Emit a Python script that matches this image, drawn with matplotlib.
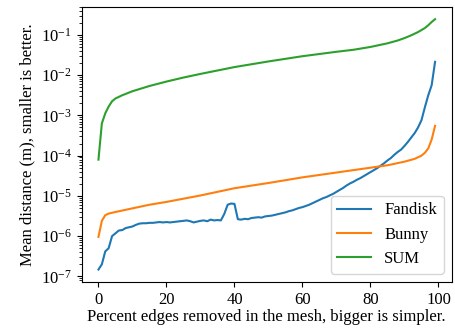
import matplotlib
matplotlib.use("Agg")
import matplotlib.pyplot as plt
import numpy as np

plt.rcParams['font.family'] = 'serif'
plt.rcParams['font.serif'] = ['Liberation Serif', 'DejaVu Serif']
plt.rcParams['mathtext.fontset'] = 'stix'
plt.rcParams['font.size'] = 12

# percent of edges removed
x = np.arange(0, 100)

# log10 of mean distance
fandisk_log10 = [
    -6.83, -6.70, -6.38, -6.30, -6.00, -5.93, -5.86, -5.85, -5.80, -5.78,
    -5.76, -5.72, -5.69, -5.68, -5.68, -5.67, -5.67, -5.66, -5.65, -5.66,
    -5.65, -5.66, -5.65, -5.64, -5.63, -5.62, -5.61, -5.63, -5.66, -5.64,
    -5.62, -5.61, -5.63, -5.59, -5.61, -5.60, -5.61, -5.45, -5.22, -5.19,
    -5.20, -5.58, -5.59, -5.57, -5.58, -5.55, -5.54, -5.53, -5.54, -5.51,
    -5.50, -5.49, -5.47, -5.45, -5.43, -5.41, -5.38, -5.36, -5.33, -5.30,
    -5.28, -5.25, -5.22, -5.18, -5.14, -5.10, -5.06, -5.03, -4.99, -4.95,
    -4.90, -4.85, -4.80, -4.74, -4.69, -4.65, -4.60, -4.56, -4.51, -4.46,
    -4.41, -4.36, -4.31, -4.25, -4.19, -4.12, -4.06, -3.98, -3.91, -3.85,
    -3.76, -3.66, -3.55, -3.44, -3.30, -3.12, -2.80, -2.50, -2.25, -1.67,
]

bunny_x = [0, 1, 2, 3, 5, 10, 15, 20, 30, 40, 50, 60, 70, 80, 85, 90, 93, 95, 96, 97, 98, 99]
bunny_log10 = [-6.02, -5.62, -5.48, -5.44, -5.40, -5.31, -5.22, -5.15, -4.99, -4.81,
               -4.68, -4.54, -4.42, -4.30, -4.24, -4.15, -4.08, -4.00, -3.93, -3.82,
               -3.60, -3.26]

sum_x = [0, 1, 2, 3, 4, 5, 7, 10, 15, 20, 25, 30, 40, 50, 60, 70, 75, 80, 85, 88,
         90, 92, 94, 96, 97, 98, 99]
sum_log10 = [-4.10, -3.20, -2.95, -2.78, -2.65, -2.58, -2.50, -2.40, -2.27, -2.16,
             -2.06, -1.97, -1.80, -1.66, -1.53, -1.42, -1.37, -1.30, -1.21, -1.14,
             -1.08, -1.01, -0.93, -0.83, -0.76, -0.68, -0.61]

y_ticks = [1e-7, 1e-6, 1e-5, 1e-4, 1e-3, 1e-2, 1e-1]

fig = plt.figure(figsize=(4.56, 3.33), dpi=100)
ax = fig.add_axes([0.179, 0.153, 0.812, 0.827])

ax.plot(x, 10 ** np.array(fandisk_log10), label='Fandisk')
ax.plot(bunny_x, 10 ** np.array(bunny_log10), label='Bunny')
ax.plot(sum_x, 10 ** np.array(sum_log10), label='SUM')

ax.set_yscale('log')
ax.set_yticks(y_ticks)
ax.set_xlabel('Percent edges removed in the mesh, bigger is simpler.', labelpad=1)
ax.set_ylabel('Mean distance (m), smaller is better.')
ax.legend(loc='lower right', fontsize=12)

fig.savefig('out.png', dpi=100)
